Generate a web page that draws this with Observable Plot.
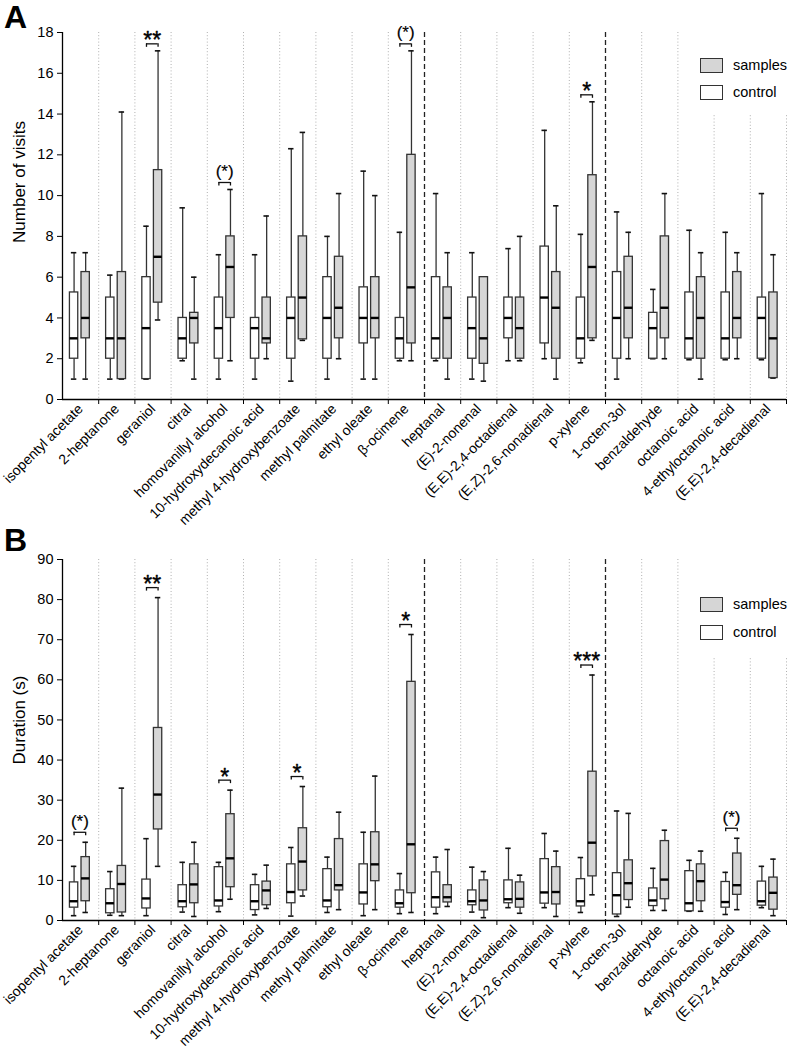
<!DOCTYPE html>
<html>
<head>
<meta charset="utf-8">
<script src="https://cdn.jsdelivr.net/npm/d3@7"></script>
<script src="https://cdn.jsdelivr.net/npm/@observablehq/plot@0.6"></script>
<style>
  html, body { margin: 0; padding: 0; background: #fff; }
  body { width: 790px; height: 1047px; font-family: "Liberation Sans", Arial, sans-serif; }
  #wrap { position: relative; width: 790px; height: 1047px; }
  svg { display: block; overflow: visible; }
  .letter { position: absolute; left: 4px; font-weight: bold; font-size: 32px; line-height: 1; }
  .ytitle { position: absolute; transform: translate(-50%, -50%) rotate(-90deg); white-space: nowrap; font-size: 17px; }
  .legend { position: absolute; background: #fff; }
  .sw { position: absolute; left: 7px; width: 23px; height: 15px; border: 1px solid #333; box-sizing: border-box; }
  .lt { position: absolute; left: 40px; font-size: 14.5px; line-height: 1; }
</style>
</head>
<body>
<div id="wrap">
  <div id="panelA"></div>
  <div id="panelB"></div>
  <div class="letter" style="top:1px">A</div>
  <div class="letter" style="top:524px">B</div>
  <div class="ytitle" style="left:20px; top:182px">Number of visits</div>
  <div class="ytitle" style="left:20px; top:720px">Duration (s)</div>
  <div class="legend" style="left:693px; top:28px; width:97px; height:86px">
    <div class="sw" style="top:30px; background:#d6d6d6"></div>
    <div class="lt" style="top:30px">samples</div>
    <div class="sw" style="top:57px; background:#fff"></div>
    <div class="lt" style="top:57px">control</div>
  </div>
  <div class="legend" style="left:693px; top:548px; width:97px; height:109px">
    <div class="sw" style="top:49px; background:#d6d6d6"></div>
    <div class="lt" style="top:49px">samples</div>
    <div class="sw" style="top:77px; background:#fff"></div>
    <div class="lt" style="top:77px">control</div>
  </div>
</div>
<script>
// ---------------- data ----------------
const categories = [
  "isopentyl acetate", "2-heptanone", "geraniol", "citral", "homovanillyl alcohol",
  "10-hydroxydecanoic acid", "methyl 4-hydroxybenzoate", "methyl palmitate", "ethyl oleate", "β-ocimene",
  "heptanal", "(E)-2-nonenal", "(E,E)-2,4-octadienal", "(E,Z)-2,6-nonadienal", "p-xylene",
  "1-octen-3ol", "benzaldehyde", "octanoic acid", "4-ethyloctanoic acid", "(E,E)-2,4-decadienal"
];
const groups = ["control", "samples"];

// each entry: [whisker low, Q1, median, Q3, whisker high]
const visitsControl = [
  [1, 2, 3, 5.25, 7.2], [1, 2, 3, 5, 6.1], [1, 1, 3.5, 6, 8.5], [1.9, 2, 3, 4, 9.4], [1, 2, 3.5, 5, 7.1],
  [1, 2, 3.5, 4, 7.1], [0.9, 2, 4, 5, 12.3], [1, 2, 4, 6, 8], [1, 2.75, 4, 5.5, 11.2], [1.9, 2, 3, 4, 8.2],
  [1.9, 2, 3, 6, 10.1], [1, 2, 3.5, 5, 7.2], [1.9, 3, 4, 5, 7.4], [2, 2.75, 5, 7.5, 13.2], [1.8, 2, 3, 5, 8.1],
  [1, 2, 4, 6.25, 9.2], [2, 2, 3.5, 4.25, 5.4], [1.95, 2, 3, 5.25, 8.3], [1.95, 2, 3, 5.25, 8.2], [1.95, 2, 4, 5, 10.1]
];
const visitsSamples = [
  [1, 3, 4, 6.25, 7.2], [1, 1, 3, 6.25, 14.1], [3.9, 4.75, 7, 11.25, 17.1], [1, 2.75, 4, 4.25, 6], [1.9, 4, 6.5, 8, 10.3],
  [2, 2.75, 3, 5, 9], [2.9, 2.95, 5, 8, 13.1], [2, 3, 4.5, 7, 10.1], [1, 3, 4, 6, 10], [1.9, 2.75, 5.5, 12, 17.1],
  [1, 2, 4, 5.5, 7.2], [0.9, 1.75, 3, 6, 6], [1.9, 2, 3.5, 5, 8], [1, 2, 4.5, 6.25, 9.5], [2.9, 3, 6.5, 11, 14.6],
  [2, 3, 4.5, 7, 8.2], [2, 3, 4.5, 8, 10.1], [1, 2, 4, 6, 7.2], [2, 3, 4, 6.25, 7.2], [1.05, 1.05, 3, 5.25, 7.1]
];
const durationControl = [
  [1.2, 3.2, 4.8, 9.5, 13.5], [1.3, 1.8, 4.3, 7.8, 12.2], [1.2, 3, 5.5, 10.2, 20.4], [2.1, 3.3, 4.8, 8.8, 14.5], [2.2, 3.5, 5, 13.3, 14.5],
  [1.4, 2.6, 4.8, 8.8, 11.5], [1.1, 4.3, 7.1, 14, 18.2], [2, 3.3, 5, 12.8, 15.8], [1.2, 4, 7, 14, 22], [1.7, 3.2, 4.3, 7.5, 11.7],
  [1.7, 3.2, 5.8, 12, 15.8], [2.1, 3.8, 4.8, 7.5, 13.3], [3.2, 4.3, 5.3, 10, 18], [3.2, 4.2, 7, 15.3, 21.7], [2, 3.5, 4.8, 10.3, 15.7],
  [1, 1.5, 6.3, 11.8, 27.3], [2.5, 3.6, 5, 8, 13], [2.3, 2.3, 4.3, 12.3, 15], [1.5, 3.2, 4.6, 9.6, 12], [3.2, 3.7, 4.8, 9.7, 13.5]
];
const durationSamples = [
  [2, 4.8, 10.5, 15.8, 19.5], [1.2, 2, 9.1, 13.6, 33], [13.5, 22.7, 31.4, 48, 80.5], [1, 4.3, 9, 14, 19.5], [5.3, 8.3, 15.5, 26.5, 32.5],
  [3, 3.8, 7.5, 9.7, 13.8], [6.1, 7.5, 14.7, 23, 33.4], [2.7, 7.5, 8.8, 20.3, 27], [2.7, 9.8, 14, 22, 36], [2, 6.8, 19, 59.5, 71.3],
  [3.5, 4.5, 5.8, 8.8, 17.7], [0.7, 2.5, 5, 10, 12.2], [1.8, 3.2, 5.4, 9.5, 11.3], [1, 4, 7.1, 13.3, 17.3], [6.4, 11, 19.4, 37.1, 61.2],
  [3.3, 5.1, 9.3, 15, 26.7], [2.5, 5.3, 10.2, 19.8, 22.5], [2.3, 4.8, 9.8, 14, 17.3], [2.7, 6.4, 8.8, 16.7, 20.5], [1.2, 2.7, 6.9, 10.7, 15.3]
];
const visitsSig = ["", "", "**", "", "(*)", "", "", "", "", "(*)", "", "", "", "", "*", "", "", "", "", ""];
const durationSig = ["(*)", "", "**", "", "*", "", "*", "", "", "*", "", "", "", "", "***", "", "", "", "(*)", ""];
const groupBreaks = [10, 15];

// ---------------- drawing ----------------
const OFF = {control: 0.32, samples: 0.64};
const HALF = 0.115, CAP = 0.075;

function panel({control, samples, sig, yMax, yStep, height, marginTop, marginBottom, gapPx}) {
  const rows = [];
  categories.forEach((c, i) => {
    [["control", control[i]], ["samples", samples[i]]].forEach(([g, v]) => {
      rows.push({i, g, pos: i + OFF[g], wlo: v[0], q1: v[1], med: v[2], q3: v[3], whi: v[4]});
    });
  });
  const innerH = height - marginTop - marginBottom;
  const pu = yMax / innerH;
  const sigRows = categories.map((c, i) => ({
    i, label: sig[i], b: Math.max(control[i][4], samples[i][4]) + gapPx * pu
  })).filter(d => d.label);
  const plain = sigRows.filter(d => !d.label.startsWith("("));
  const paren = sigRows.filter(d => d.label.startsWith("("));
  const mid = d => d.i + (OFF.control + OFF.samples) / 2;
  const boundaries = d3.range(1, categories.length + 1).filter(k => !groupBreaks.includes(k));
  const centers = categories.map((c, i) => i + 0.5);
  const stroke = "#333";

  return Plot.plot({
    width: 790, height, marginTop, marginBottom, marginLeft: 62, marginRight: 4,
    style: {fontFamily: "'Liberation Sans', Arial, sans-serif", fontSize: "14px", color: "#000", background: "transparent", overflow: "visible"},
    x: {domain: [0, categories.length], axis: null},
    y: {domain: [0, yMax], axis: null},
    marks: [
      Plot.ruleX(boundaries, {stroke: "#b0b0b0", strokeDasharray: "1,2.2", strokeWidth: 1}),
      Plot.ruleX(groupBreaks, {stroke: "#222", strokeDasharray: "5,3", strokeWidth: 1.3}),
      // whiskers
      Plot.ruleX(rows, {x: "pos", y1: "q3", y2: "whi", stroke, strokeWidth: 1.3}),
      Plot.ruleX(rows, {x: "pos", y1: "wlo", y2: "q1", stroke, strokeWidth: 1.3}),
      Plot.ruleY(rows, {x1: d => d.pos - CAP, x2: d => d.pos + CAP, y: "whi", stroke: "#111", strokeWidth: 1.6}),
      Plot.ruleY(rows, {x1: d => d.pos - CAP, x2: d => d.pos + CAP, y: "wlo", stroke: "#111", strokeWidth: 1.6}),
      // boxes
      Plot.rect(rows.filter(d => d.g === "control"), {x1: d => d.pos - HALF, x2: d => d.pos + HALF, y1: "q1", y2: "q3", fill: "#fff", stroke, strokeWidth: 1.3}),
      Plot.rect(rows.filter(d => d.g === "samples"), {x1: d => d.pos - HALF, x2: d => d.pos + HALF, y1: "q1", y2: "q3", fill: "#d6d6d6", stroke, strokeWidth: 1.3}),
      Plot.ruleY(rows, {x1: d => d.pos - HALF, x2: d => d.pos + HALF, y: "med", stroke: "#000", strokeWidth: 2.4}),
      // significance brackets
      Plot.ruleY(sigRows, {x1: d => d.i + OFF.control, x2: d => d.i + OFF.samples, y: "b", stroke: "#111", strokeWidth: 1.3}),
      Plot.ruleX(sigRows, {x: d => d.i + OFF.control, y1: "b", y2: d => d.b - 3.5 * pu, stroke: "#111", strokeWidth: 1.3}),
      Plot.ruleX(sigRows, {x: d => d.i + OFF.samples, y1: "b", y2: d => d.b - 3.5 * pu, stroke: "#111", strokeWidth: 1.3}),
      Plot.text(plain, {x: mid, y: "b", text: "label", fontSize: 23, dy: -3, fill: "#000", stroke: "#000", strokeWidth: 0.4}),
      Plot.text(paren, {x: mid, y: "b", text: "label", fontSize: 17, dy: -11, fill: "#000", stroke: "#000", strokeWidth: 0.2}),
      // axes
      Plot.ruleX([0], {stroke: "#000", strokeWidth: 1.3}),
      Plot.ruleY([0], {stroke: "#000", strokeWidth: 1.3}),
      Plot.axisY({ticks: d3.range(0, yMax + yStep / 2, yStep), tickSize: 5, tickPadding: 4, fontSize: 14.5, label: null}),
      Plot.axisX({ticks: d3.range(1, categories.length + 1), tickSize: 5, tickFormat: () => "", label: null}),
      Plot.axisX({ticks: centers, tickSize: 0, tickPadding: 7, tickRotate: -45, fontSize: 14,
                  tickFormat: d => categories[Math.round(d - 0.5)], label: null, dx: 0})
    ]
  });
}

document.getElementById("panelA").append(panel({
  control: visitsControl, samples: visitsSamples, sig: visitsSig,
  yMax: 18, yStep: 2, height: 520, marginTop: 32, marginBottom: 121, gapPx: 7
}));
document.getElementById("panelB").append(panel({
  control: durationControl, samples: durationSamples, sig: durationSig,
  yMax: 90, yStep: 10, height: 527, marginTop: 39, marginBottom: 127, gapPx: 10
}));
</script>
</body>
</html>
